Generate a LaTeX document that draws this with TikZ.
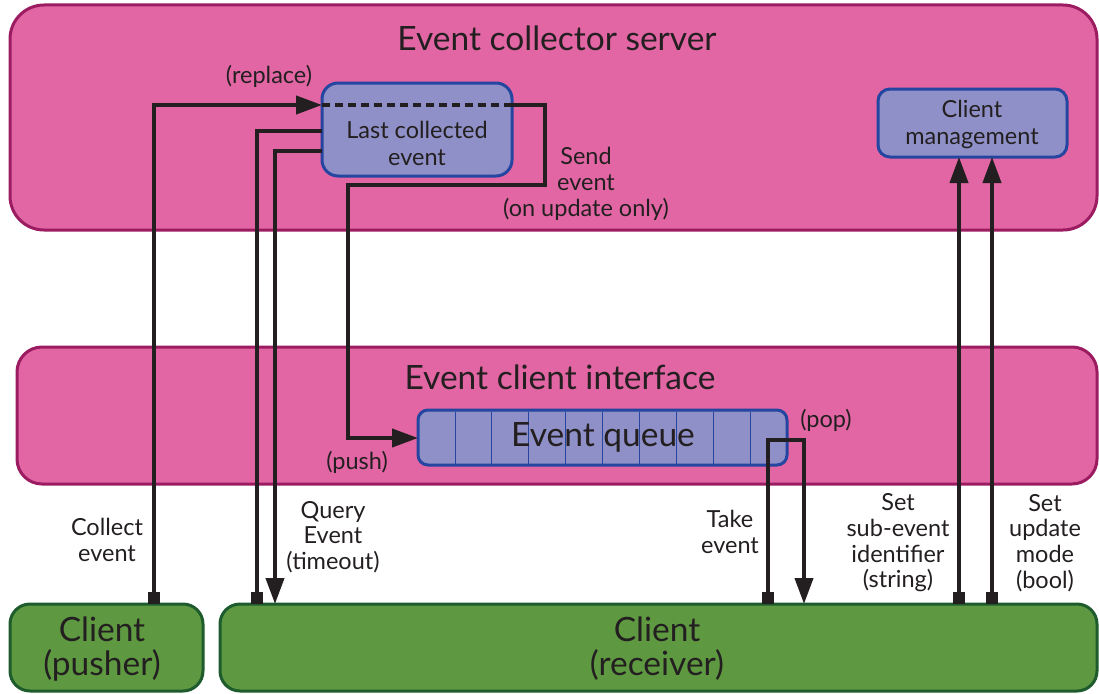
\documentclass[tikz,border=0pt]{standalone}
\usepackage{fontspec}
\setmainfont{Lato}
\usetikzlibrary{arrows.meta}
\definecolor{pinkfill}{HTML}{E166A3}
\definecolor{pinkline}{HTML}{9C1C62}
\definecolor{bluefill}{HTML}{8F90C7}
\definecolor{blueline}{HTML}{2445A0}
\definecolor{greenfill}{HTML}{5E9941}
\definecolor{greenline}{HTML}{1E5B2D}
\definecolor{ink}{HTML}{231F20}
\begin{document}
\begin{tikzpicture}[x=1pt,y=-1pt,
  box/.style={anchor=north west, outer sep=0pt, inner sep=0pt, line width=3pt},
  pinkbox/.style={box, fill=pinkfill, draw=pinkline, rounded corners=34pt},
  bluebox/.style={box, fill=bluefill, draw=blueline, rounded corners=14pt},
  greenbox/.style={box, fill=greenfill, draw=greenline, rounded corners=20pt},
  big/.style={font=\fontsize{33.5}{34}\selectfont, text=ink, align=center},
  mid/.style={font=\fontsize{23.5}{27}\selectfont, text=ink, align=center},
  lab/.style={font=\fontsize{23.5}{25.7}\selectfont, text=ink, align=center},
  conn/.style={draw=ink, line width=4pt},
]
\useasboundingbox (0,0) rectangle (1099,693);
\fill[white] (0,0) rectangle (1099,693);

% main containers
\node[pinkbox, minimum width=1087pt, minimum height=225pt] (server) at (10,5) {};
\node[pinkbox, rounded corners=25pt, minimum width=1080pt, minimum height=137pt] (iface) at (17,347) {};
\node[greenbox, minimum width=193pt, minimum height=87pt] (pusher) at (10,604) {};
\node[greenbox, minimum width=877pt, minimum height=87pt] (recv) at (220,604) {};

% inner boxes
\node[bluebox, rounded corners=16pt, minimum width=190pt, minimum height=93pt] (last) at (322,83) {};
\node[bluebox, rounded corners=12pt, minimum width=189pt, minimum height=68pt] (mgmt) at (878,89) {};
\node[bluebox, rounded corners=10pt, minimum width=369pt, minimum height=55pt] (queue) at (418,410) {};
\foreach \i in {1,...,9}{
  \draw[blueline, line width=0.8pt] (418+36.9*\i,411.5) -- (418+36.9*\i,463.5);
}

% titles
\node[big] (servert) at (557,38) {Event collector server};
\node[big] (ifacet) at (560,377) {Event client interface};
\node[big] (pushert) at (102,649) {Client\\(pusher)};
\node[big] (recvt) at (657,649) {Client\\(receiver)};
\node[mid] (lastt) at (417,143) {Last collected\\event};
\node[mid] (mgmtt) at (972,124) {Client\\management};
\node[big] (queuet) at (603,437) {Event queue};

% coordinates for connectors
\coordinate (pA) at (154,604);
\coordinate (rQ1) at (257,604);
\coordinate (rQ2) at (275,604);
\coordinate (rT1) at (768,604);
\coordinate (rT2) at (804,604);
\coordinate (rS1) at (959,604);
\coordinate (rS2) at (992,604);

% collect event (replace)
\draw[conn, {Square[length=12pt,width=12pt]}-{Triangle[length=26pt,width=18pt]}]
  (pA) -- (154,105) -- (last.west |- 0,105);
% send event (dashed through box)
\draw[draw=ink, line width=3.5pt, dash pattern=on 8pt off 5pt] (last.west |- 0,105) -- (last.east |- 0,105);
\draw[conn, -{Triangle[length=26pt,width=18pt]}]
  (last.east |- 0,105) -- (545,105) -- (545,185) -- (348,185) -- (348,438) -- (queue.west |- 0,438);
% query event
\draw[conn, {Square[length=12pt,width=12pt]}-]
  (rQ1) -- (257,131) -- (last.west |- 0,131);
\draw[conn, -{Triangle[length=26pt,width=18pt]}]
  (last.west |- 0,151) -- (275,151) -- (rQ2);
% take event
\draw[conn, {Square[length=12pt,width=12pt]}-{Triangle[length=26pt,width=18pt]}]
  (rT1) -- (768,440) -- (804,440) -- (rT2);
% set sub-event / update mode
\draw[conn, {Square[length=12pt,width=12pt]}-{Triangle[length=26pt,width=18pt]}]
  (rS1) -- (mgmt.south -| rS1);
\draw[conn, {Square[length=12pt,width=12pt]}-{Triangle[length=26pt,width=18pt]}]
  (rS2) -- (mgmt.south -| rS2);

% labels
\node[lab] (lreplace) at (269,76) {(replace)};
\node[lab] (lsend) at (586,184) {Send\\event\\(on update only)};
\node[lab] (lpush) at (357,462) {(push)};
\node[lab] (lpop) at (826,420) {(pop)};
\node[lab] (lcollect) at (107,540) {Collect\\event};
\node[lab] (lquery) at (333,537) {Query\\Event\\(timeout)};
\node[lab] (ltake) at (730,532) {Take\\event};
\node[lab] (lsub) at (898,543) {Set\\sub-event\\identifier\\(string)};
\node[lab] (lupd) at (1045,543) {Set\\update\\mode\\(bool)};
\end{tikzpicture}
\end{document}
